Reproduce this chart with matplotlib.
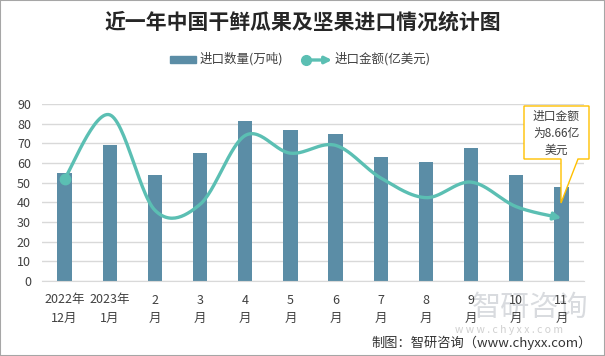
import numpy as np
import matplotlib
matplotlib.use('Agg')
import matplotlib.pyplot as plt
from matplotlib.patches import Rectangle, Polygon, FancyArrowPatch
from matplotlib.lines import Line2D

plt.rcParams['font.family'] = ['Noto Sans CJK SC', 'DejaVu Sans']

months = ['2022年\n12月', '2023年\n1月', '2\n月', '3\n月', '4\n月', '5\n月',
          '6\n月', '7\n月', '8\n月', '9\n月', '10\n月', '11\n月']
qty = [55, 69, 54, 65, 81.5, 77, 75, 63, 60.5, 67.6, 54, 47.8]        # 万吨
amount = [14.07, 22.87, 9.74, 10.55, 20.03, 17.59, 18.67, 14.18,
          11.47, 13.61, 10.23, 8.66]                                    # 亿美元

bar_c = '#5b8da6'
line_c = '#5bbfb3'
txt_c = '#404040'

W, H = 605, 356
fig = plt.figure(figsize=(6.05, 3.56), dpi=100)


def fx(x):
    return x / W


def fy(y):
    return 1 - y / H


def smooth(xs, ys, n=30):
    # catmull-rom style smoothing, like excel's smoothed line
    pts = np.column_stack([xs, ys]).astype(float)
    P = np.vstack([pts[0], pts, pts[-1]])
    out = []
    t = np.linspace(0, 1, n)[:, None]
    for i in range(1, len(P) - 2):
        p0, p1, p2, p3 = P[i - 1], P[i], P[i + 1], P[i + 2]
        c1 = p1 + (p2 - p0) / 6
        c2 = p2 - (p3 - p1) / 6
        seg = (1 - t)**3 * p1 + 3 * (1 - t)**2 * t * c1 + 3 * (1 - t) * t**2 * c2 + t**3 * p2
        out.append(seg if i == 1 else seg[1:])
    return np.vstack(out)


ax = fig.add_axes([fx(42), fy(281), (584 - 42) / W, (281 - 104) / H])
x = np.arange(len(months))
ax.bar(x, qty, width=0.32, color=bar_c, zorder=2)
ax.set_xlim(-0.5, 11.5)
ax.set_ylim(0, 90)
ax.set_yticks(range(0, 91, 10))
ax.grid(axis='y', color='#d9d9d9', lw=1, zorder=0)
for s in ['top', 'right', 'left']:
    ax.spines[s].set_visible(False)
ax.spines['bottom'].set_color('#d9d9d9')
ax.set_xticks(x)
ax.set_xticklabels(months, linespacing=1.5)
ax.tick_params(axis='both', length=0, labelsize=9, colors=txt_c)
ax.tick_params(axis='y', pad=8)
ax.tick_params(axis='x', pad=9)

ax2 = ax.twinx()
ax2.set_ylim(0, 24.36)
ax2.axis('off')
ax2.set_xlim(-0.5, 11.5)
curve = smooth(x, amount)
ax2.plot(curve[:-4, 0], curve[:-4, 1], color=line_c, lw=2.4, solid_capstyle='round', zorder=3)
ax2.plot(x[0], amount[0], 'o', color=line_c, ms=7.5, zorder=4)
ax2.add_patch(FancyArrowPatch(tuple(curve[-10]), tuple(curve[-1]), arrowstyle='-|>',
                              mutation_scale=11, color=line_c, lw=2.4,
                              shrinkA=0, shrinkB=0, zorder=4))

# title
fig.text(fx(303), fy(22), '近一年中国干鲜瓜果及坚果进口情况统计图', ha='center', va='center',
         fontsize=15, fontweight='bold', color='#262626')

# legend
fig.add_artist(Rectangle((fx(170), fy(63)), fx(26), 7 / H, color=bar_c, transform=fig.transFigure))
fig.text(fx(200), fy(59), '进口数量(万吨)', va='center', fontsize=9, color=txt_c)
fig.add_artist(FancyArrowPatch((fx(306), fy(60)), (fx(332), fy(60)), transform=fig.transFigure,
                               arrowstyle='-|>', mutation_scale=10, color=line_c, lw=2.4,
                               shrinkA=0, shrinkB=0))
fig.add_artist(Line2D([fx(306)], [fy(60)], marker='o', ms=7, color=line_c, transform=fig.transFigure))
fig.text(fx(335), fy(59), '进口金额(亿美元)', va='center', fontsize=9, color=txt_c)

# callout
callout = [(524, 106), (589, 106), (589, 159), (578, 159), (561, 203), (561, 159), (524, 159)]
fig.add_artist(Polygon([(fx(a), fy(b)) for a, b in callout], closed=True, fc='white',
                       ec='#ffc000', lw=1, transform=fig.transFigure, zorder=5))
fig.text(fx(556.5), fy(133), '进口金额\n为%.2f亿\n美元' % amount[-1], ha='center', va='center',
         fontsize=8.5, color=txt_c, linespacing=1.4, zorder=6)

# watermark
fig.text(fx(530), fy(308), '智研咨询', ha='center', va='center', fontsize=21,
         color='#c9cdd2', alpha=0.7, zorder=-1)
fig.text(fx(509), fy(330), 'w w w . c h y x x . c o m', ha='center', va='center',
         fontsize=7.5, color='#d0d0d0', zorder=-1)

# footer
fig.text(fx(592), fy(343), '制图：智研咨询（www.chyxx.com）', ha='right', va='center',
         fontsize=9.5, color='#333333')

fig.add_artist(Rectangle((0, 0), 1, 1, fill=False, ec='#a6a6a6', lw=1.5, transform=fig.transFigure))

fig.savefig('out.png', dpi=100)
